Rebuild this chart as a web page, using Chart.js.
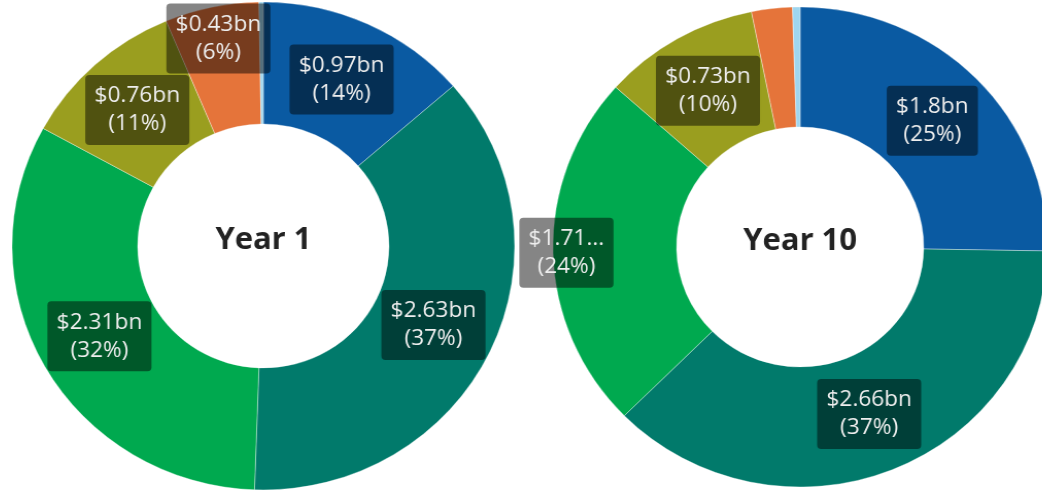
<!DOCTYPE html>
<html>
<head>
<meta charset="utf-8">
<script src="https://cdn.jsdelivr.net/npm/chart.js@4.4.1/dist/chart.umd.min.js"></script>
<style>
    html, body {
        margin: 0;
        padding: 0;
        background: #fff;
        width: 1042px;
        height: 492px;
        overflow: hidden;
    }

    .donut {
        position: absolute;
        height: 490px;
        transform: scaleX(1.03);
        transform-origin: left top;
    }
</style>
</head>
<body>
<div class="donut" style="left: 11px; top: 1px; width: 490px;"><canvas id="year1"></canvas></div>
<div class="donut" style="left: 486px; top: 2px; width: 610px;"><canvas id="year10"></canvas></div>
<script>
const categories = ['Category 1', 'Category 2', 'Category 3', 'Category 4', 'Category 5', 'Category 6'];

// $bn per category
const year1Values = [0.97, 2.63, 2.31, 0.76, 0.43, 0.02];
const year10Values = [1.8, 2.66, 1.71, 0.73, 0.19, 0.035];

const chartTitles = ['Year 1', 'Year 10'];

const sliceColors = ['#0a5aa2', '#017a6b', '#00a94f', '#9a9e1f', '#e5743a', '#9fd6ef'];

const sliceLabels = {
    id: 'sliceLabels',
    afterDatasetsDraw(chart, args, opts) {
        const { ctx } = chart;
        const values = chart.data.datasets[0].data;
        const total = values.reduce((sum, v) => sum + v, 0);

        ctx.save();
        ctx.font = opts.font;
        ctx.textAlign = 'center';
        ctx.textBaseline = 'middle';

        chart.getDatasetMeta(0).data.forEach((arc, i) => {
            const share = values[i] / total;

            if (share < opts.minShare) {
                return;
            }

            const { x, y, startAngle, endAngle, innerRadius, outerRadius } = arc.getProps(
                ['x', 'y', 'startAngle', 'endAngle', 'innerRadius', 'outerRadius'], true,
            );
            const mid = (startAngle + endAngle) / 2;
            const r = opts.radius?.[i] ?? (innerRadius + outerRadius) / 2;
            const cx = x + Math.cos(mid) * r;
            const cy = y + Math.sin(mid) * r;

            let valueText = '$' + values[i] + 'bn';
            const keep = opts.truncate?.[i];
            if (keep) {
                valueText = valueText.slice(0, keep) + '...';
            }

            const lines = [valueText, '(' + Math.round(share * 100) + '%)'];
            const w = Math.max(...lines.map((t) => ctx.measureText(t).width)) + opts.padX * 2;
            const h = lines.length * opts.lineHeight + opts.padY * 2;

            ctx.fillStyle = opts.boxColor;
            ctx.beginPath();
            ctx.roundRect(cx - w / 2, cy - h / 2, w, h, opts.cornerRadius);
            ctx.fill();

            ctx.fillStyle = opts.color;
            lines.forEach((t, k) => {
                ctx.fillText(t, cx, cy - h / 2 + opts.padY + opts.lineHeight * (k + 0.5));
            });
        });

        ctx.restore();
    },
};

const centerTitle = {
    id: 'centerTitle',
    afterDraw(chart, args, opts) {
        const arc = chart.getDatasetMeta(0).data[0];
        const { ctx } = chart;

        ctx.save();
        ctx.font = opts.font;
        ctx.fillStyle = opts.color;
        ctx.textAlign = 'center';
        ctx.textBaseline = 'middle';
        ctx.fillText(opts.text, arc.x, arc.y + opts.dy);
        ctx.restore();
    },
};

function makeDonut(canvasId, values, title, radius, extra) {
    return new Chart(document.getElementById(canvasId), {
        type: 'doughnut',
        data: {
            labels: categories,
            datasets: [{
                data: values,
                backgroundColor: sliceColors,
                borderColor: 'rgba(255, 255, 255, 0.35)',
                borderWidth: 1,
                hoverOffset: 0,
            }],
        },
        options: {
            responsive: true,
            maintainAspectRatio: false,
            animation: false,
            radius,
            cutout: '50%',
            layout: { padding: extra.padding ?? 0 },
            plugins: {
                legend: { display: false },
                tooltip: { enabled: false },
                sliceLabels: {
                    font: '22px "Segoe UI", "Open Sans", sans-serif',
                    color: '#eeeeee',
                    boxColor: 'rgba(0, 0, 0, 0.48)',
                    lineHeight: 28,
                    padX: 9,
                    padY: 7,
                    cornerRadius: 4,
                    minShare: 0.04,
                    radius: extra.labelRadius,
                    truncate: extra.truncate,
                },
                centerTitle: {
                    text: title,
                    font: 'bold 30px "Segoe UI", "Open Sans", sans-serif',
                    color: '#222222',
                    dy: -6,
                },
            },
        },
        plugins: [sliceLabels, centerTitle],
    });
}

makeDonut('year1', year1Values, chartTitles[0], 244, {
    labelRadius: { 4: 212 },
});

makeDonut('year10', year10Values, chartTitles[1], 240, {
    padding: { left: 60, right: 60 },
    labelRadius: { 2: 227 },
    truncate: { 2: 5 },
});
</script>
</body>
</html>
